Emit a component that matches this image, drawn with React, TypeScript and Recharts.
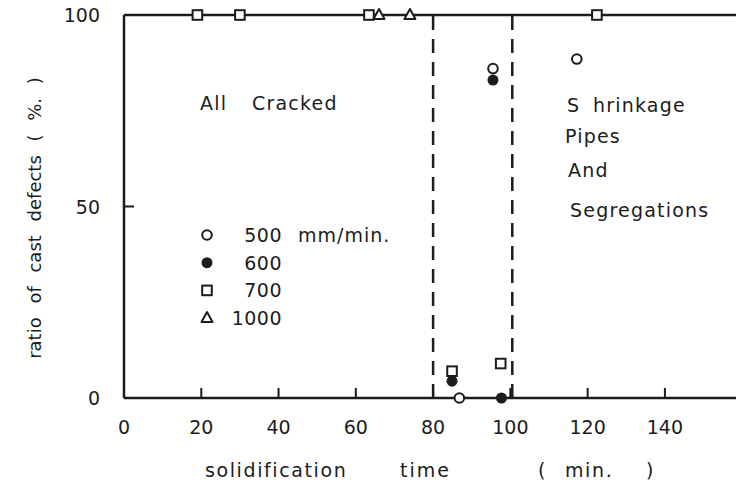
import { Customized, ReferenceLine, Scatter, ScatterChart, XAxis, YAxis } from "recharts"

const xTicks = [0, 20, 40, 60, 80, 100, 120, 140]
const yTicks = [0, 50, 100]

// 500 mm/min. (open circle)
const s500 = [
  { x: 86.8, y: 0 },
  { x: 95.5, y: 86 },
  { x: 117.2, y: 88.5 },
]
// 600 (filled circle)
const s600 = [
  { x: 84.9, y: 4.4 },
  { x: 95.5, y: 83 },
  { x: 97.7, y: 0 },
]
// 700 (open square)
const s700 = [
  { x: 19, y: 100 },
  { x: 30, y: 100 },
  { x: 63.4, y: 100 },
  { x: 122.4, y: 100 },
  { x: 84.9, y: 7 },
  { x: 97.5, y: 9 },
]
// 1000 (open triangle)
const s1000 = [
  { x: 66, y: 100 },
  { x: 74, y: 100 },
]

const legendItems = [
  { label: "500", shape: "circle" },
  { label: "600", shape: "dot" },
  { label: "700", shape: "square" },
  { label: "1000", shape: "triangle" },
]

const INK = "#1c1c1c"
const FONT = "DejaVu Sans"

function Marker({ kind, cx, cy }: { kind: string; cx: number; cy: number }) {
  if (kind === "circle")
    return <circle cx={cx} cy={cy} r={4.8} fill="#fff" stroke={INK} strokeWidth={2} />
  if (kind === "dot") return <circle cx={cx} cy={cy} r={5.5} fill={INK} />
  if (kind === "square")
    return <rect x={cx - 4.8} y={cy - 4.8} width={9.6} height={9.6} fill="#fff" stroke={INK} strokeWidth={2} />
  return (
    <path
      d={`M${cx},${cy - 6} L${cx + 5.5},${cy + 4} L${cx - 5.5},${cy + 4} Z`}
      fill="#fff"
      stroke={INK}
      strokeWidth={2}
      strokeLinejoin="round"
    />
  )
}

const shapeOf = (kind: string) => (p: any) => <Marker kind={kind} cx={p.cx} cy={p.cy} />

function XTick({ x, y, payload }: any) {
  return (
    <g>
      {payload.value !== 0 && <line x1={x} y1={y} x2={x} y2={y - 10} stroke={INK} strokeWidth={2} />}
      <text x={x} y={y + 36} textAnchor="middle" fontFamily={FONT} fontSize={19} fill={INK}>
        {payload.value}
      </text>
    </g>
  )
}

function YTick({ x, y, payload }: any) {
  return (
    <g>
      {payload.value === 50 && <line x1={x} y1={y} x2={x + 10} y2={y} stroke={INK} strokeWidth={2} />}
      <text x={x - 24} y={y + 7} textAnchor="end" fontFamily={FONT} fontSize={19} fill={INK}>
        {payload.value}
      </text>
    </g>
  )
}

function Annotations() {
  const t = { fontFamily: FONT, fontSize: 19, fill: INK, letterSpacing: 1.2 }
  return (
    <g>
      <text x={200} y={110} {...t}>All</text>
      <text x={252} y={110} {...t}>Cracked</text>
      <text x={567} y={112} {...t}>S</text>
      <text x={593} y={112} {...t}>hrinkage</text>
      <text x={565} y={143} {...t}>Pipes</text>
      <text x={568} y={177} {...t}>And</text>
      <text x={570} y={217} {...t}>Segregations</text>

      {legendItems.map((it, i) => (
        <g key={it.label}>
          <Marker kind={it.shape} cx={207} cy={235 + i * 27.7} />
          <text x={282} y={242 + i * 27.7} textAnchor="end" {...t} letterSpacing={0.5}>
            {it.label}
          </text>
        </g>
      ))}
      <text x={298} y={242} {...t} letterSpacing={1}>mm/min.</text>

      <text x={205} y={477} {...t} letterSpacing={1.6}>solidification</text>
      <text x={400} y={477} {...t} letterSpacing={2}>time</text>
      <text x={538} y={477} {...t}>(</text>
      <text x={565} y={477} {...t} letterSpacing={1.6}>min.</text>
      <text x={646} y={477} {...t}>)</text>

      <text
        x={34}
        y={218}
        transform="rotate(-90 34 218)"
        textAnchor="middle"
        dominantBaseline="central"
        fontFamily={FONT}
        fontSize={18}
        fill={INK}
        wordSpacing={8}
      >
        ratio of cast defects ( %. )
      </text>
    </g>
  )
}

export default function App() {
  return (
    <div style={{ position: "absolute", left: 0, top: 0, width: 736, height: 488, background: "#fff" }}>
      <ScatterChart width={736} height={488} margin={{ top: 15, right: 0, bottom: 0, left: 0 }}>
        <XAxis
          dataKey="x"
          type="number"
          domain={[0, 158.4]}
          ticks={xTicks}
          height={90}
          tickSize={0}
          tickMargin={0}
          tickLine={false}
          tick={<XTick />}
          axisLine={{ stroke: INK, strokeWidth: 2.5 }}
        />
        <YAxis
          dataKey="y"
          type="number"
          domain={[0, 100]}
          ticks={yTicks}
          width={124}
          tickSize={0}
          tickMargin={0}
          tickLine={false}
          tick={<YTick />}
          axisLine={{ stroke: INK, strokeWidth: 2.5 }}
        />
        <ReferenceLine y={100} stroke={INK} strokeWidth={2.5} />
        <ReferenceLine x={80} stroke={INK} strokeWidth={2.5} strokeDasharray="14 9" />
        <ReferenceLine x={100.5} stroke={INK} strokeWidth={2.5} strokeDasharray="14 9" />
        <Scatter data={s700} shape={shapeOf("square")} isAnimationActive={false} />
        <Scatter data={s1000} shape={shapeOf("triangle")} isAnimationActive={false} />
        <Scatter data={s600} shape={shapeOf("dot")} isAnimationActive={false} />
        <Scatter data={s500} shape={shapeOf("circle")} isAnimationActive={false} />
        <Customized component={Annotations} />
      </ScatterChart>
    </div>
  )
}
